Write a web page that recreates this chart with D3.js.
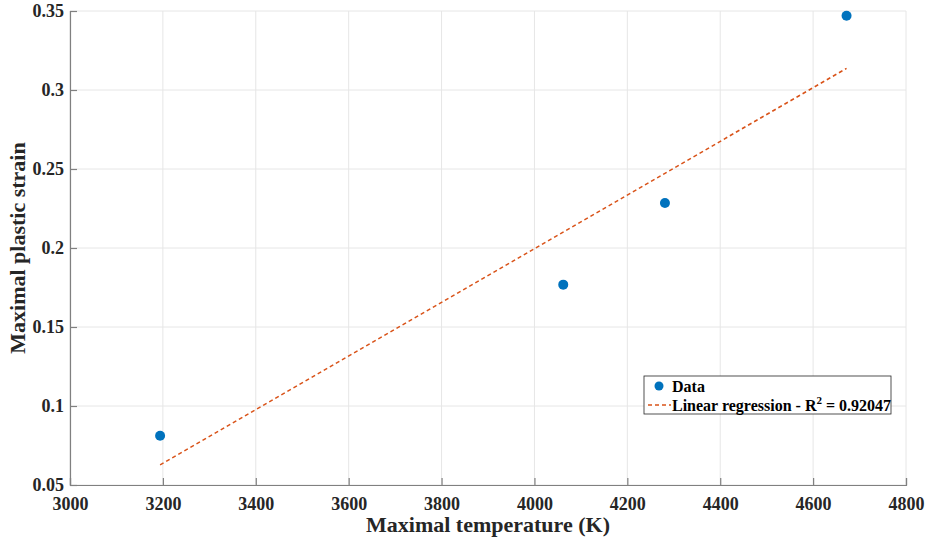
<!DOCTYPE html>
<meta charset="utf-8">
<style>
body { margin: 0; background: #fff; }
svg { font-family: "Liberation Serif", "Times New Roman", serif; font-weight: bold; }
</style>
<svg width="928" height="545"></svg>
<script src="https://cdnjs.cloudflare.com/ajax/libs/d3/7.8.5/d3.min.js"></script>
<script>

// measured points
var tempK = [3194, 4062, 4281, 4672];
var strain = [0.0812, 0.1768, 0.2285, 0.3470];

// regression line ends
var fitX = [3194, 4672];
var fitY = [0.0627, 0.3137];

var xTicks = [3000, 3200, 3400, 3600, 3800, 4000, 4200, 4400, 4600, 4800];
var yTicks = [0.05, 0.1, 0.15, 0.2, 0.25, 0.3, 0.35];

var svg = d3.select("svg"),
    pLeft = 70, pRight = 906, pTop = 11, pBottom = 485;

var x = d3.scaleLinear().domain([3000, 4800]).range([pLeft, pRight]);
var y = d3.scaleLinear().domain([0.05, 0.35]).range([pBottom, pTop]);

// grid
svg.append("g").selectAll("line")
  .data(xTicks)
  .enter().append("line")
    .attr("x1", function(d) { return x(d); })
    .attr("x2", function(d) { return x(d); })
    .attr("y1", pTop).attr("y2", pBottom)
    .attr("stroke", "#e6e6e6").attr("stroke-width", 1);

svg.append("g").selectAll("line")
  .data(yTicks)
  .enter().append("line")
    .attr("x1", pLeft).attr("x2", pRight)
    .attr("y1", function(d) { return y(d); })
    .attr("y2", function(d) { return y(d); })
    .attr("stroke", "#e6e6e6").attr("stroke-width", 1);

// axes, ticks pointing inward like matlab
var xAxis = svg.append("g")
    .attr("transform", "translate(0," + pBottom + ")")
    .call(d3.axisBottom(x).tickValues(xTicks).tickSize(-7).tickPadding(12).tickFormat(d3.format("d")));

var yAxis = svg.append("g")
    .attr("transform", "translate(" + pLeft + ",0)")
    .call(d3.axisLeft(y).tickValues(yTicks).tickSize(-7).tickPadding(6).tickFormat(function(d) { return String(+d.toFixed(2)); }));

[xAxis, yAxis].forEach(function(a) {
  a.select(".domain").attr("stroke", "#808080").attr("stroke-width", 1.2);
  a.selectAll(".tick line").attr("stroke", "#808080").attr("stroke-width", 1.2);
  a.selectAll("text")
    .attr("fill", "#262626")
    .style("font-family", "Liberation Serif, serif")
    .style("font-weight", "bold")
    .style("font-size", "18px");
});

// regression line
svg.append("line")
    .attr("x1", x(fitX[0])).attr("y1", y(fitY[0]))
    .attr("x2", x(fitX[1])).attr("y2", y(fitY[1]))
    .attr("stroke", "#D95319")
    .attr("stroke-width", 1.5)
    .attr("stroke-dasharray", "4,3");

// data points
svg.append("g").selectAll("circle")
  .data(tempK)
  .enter().append("circle")
    .attr("cx", function(d) { return x(d); })
    .attr("cy", function(d, i) { return y(strain[i]); })
    .attr("r", 5)
    .attr("fill", "#0072BD");

// axis titles
svg.append("text")
    .attr("x", (pLeft + pRight) / 2)
    .attr("y", 532)
    .attr("text-anchor", "middle")
    .attr("fill", "#262626")
    .style("font-size", "22px")
    .text("Maximal temperature (K)");

svg.append("text")
    .attr("transform", "translate(25," + (pTop + pBottom) / 2 + ") rotate(-90)")
    .attr("text-anchor", "middle")
    .attr("fill", "#262626")
    .style("font-size", "22px")
    .text("Maximal plastic strain");

// legend
var lg = svg.append("g").attr("transform", "translate(644,376)");
lg.append("rect")
    .attr("width", 247).attr("height", 38)
    .attr("fill", "#fff")
    .attr("stroke", "#262626").attr("stroke-width", 0.8);

lg.append("circle").attr("cx", 15).attr("cy", 10).attr("r", 4.5).attr("fill", "#0072BD");
lg.append("text").attr("x", 28).attr("y", 15.5)
    .attr("fill", "#000").style("font-size", "16px").text("Data");

lg.append("line").attr("x1", 4).attr("x2", 27).attr("y1", 29).attr("y2", 29)
    .attr("stroke", "#D95319").attr("stroke-width", 1.5).attr("stroke-dasharray", "4,3");
var t = lg.append("text").attr("x", 28).attr("y", 35)
    .attr("fill", "#000").style("font-size", "16px");
t.append("tspan").text("Linear regression - R");
t.append("tspan").attr("dy", -7).style("font-size", "11px").text("2");
t.append("tspan").attr("dy", 7).text(" = 0.92047");

</script>
